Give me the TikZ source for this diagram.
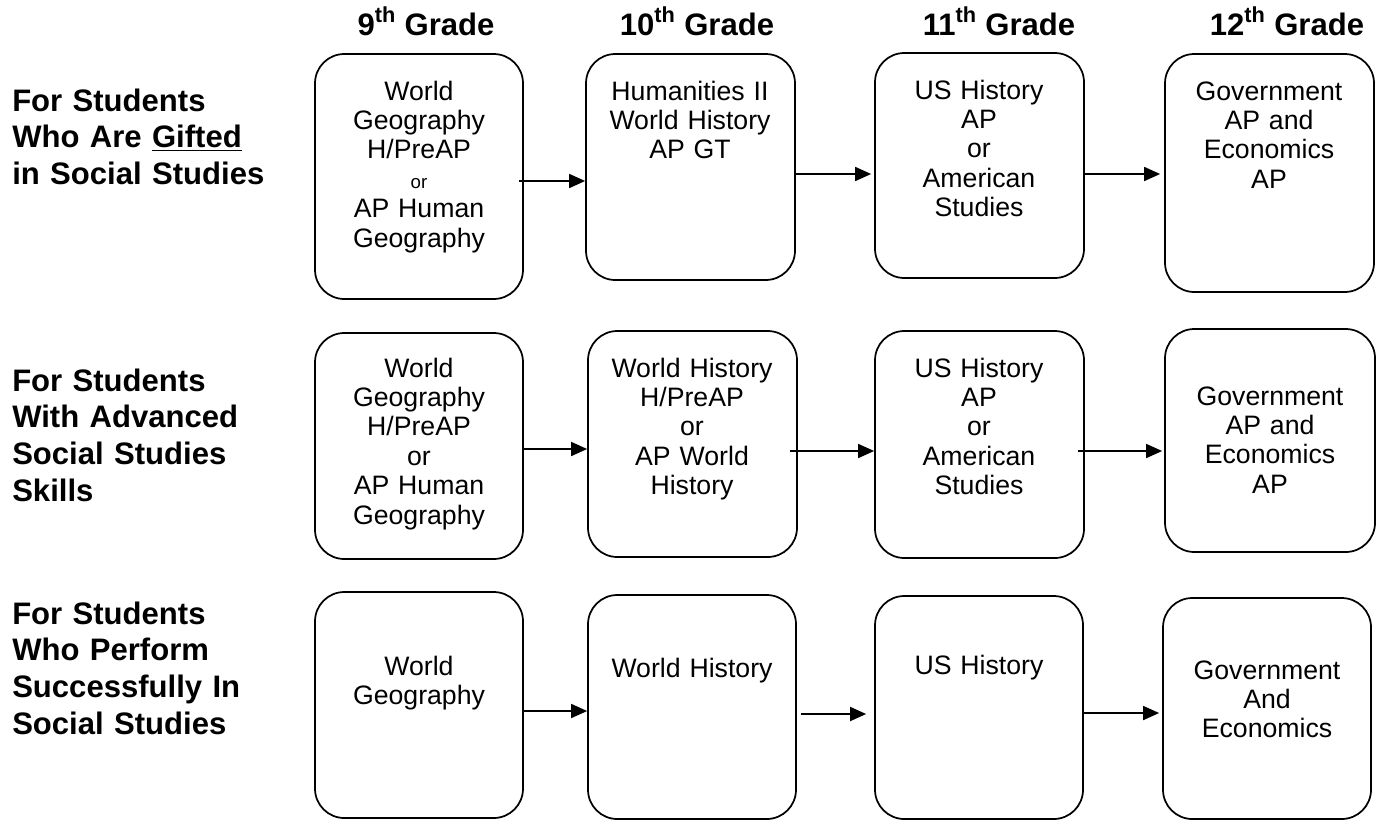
\documentclass[tikz,border=0pt]{standalone}
\usepackage{fontspec}
\setmainfont{Liberation Sans}
\usetikzlibrary{arrows.meta,fit}
\begin{document}
\begin{tikzpicture}[x=0.75pt,y=-0.75pt,
 box/.style={draw, line width=1.3pt, rounded corners=22pt, inner sep=0pt},
 txt/.style={font=\fontsize{20}{22.1}\selectfont, text width=155pt, align=center, anchor=base, inner sep=0pt},
 lab/.style={font=\bfseries\fontsize{23.3}{27.6}\selectfont, text width=240pt, align=left, anchor=base west, inner sep=0pt},
 hdr/.style={font=\bfseries\fontsize{23.3}{27}\selectfont, anchor=base, inner sep=0pt},
 arr/.style={-{Triangle[length=12pt,width=10.5pt]}, line width=1.3pt}]
\useasboundingbox (0,0) rectangle (1377,822);

% headers
\node[hdr] (h9) at (426,35) {9\textsuperscript{th} Grade};
\node[hdr] (h10) at (697,35) {10\textsuperscript{th} Grade};
\node[hdr] (h11) at (999,35) {11\textsuperscript{th} Grade};
\node[hdr] (h12) at (1287,35) {12\textsuperscript{th} Grade};

% row labels
\node[lab] (l1) at (12,111) {For Students\\Who Are \underline{Gifted}\\in Social Studies};
\node[lab] (l2) at (12,391) {For Students\\With Advanced\\Social Studies\\Skills};
\node[lab] (l3) at (12,624) {For Students\\Who Perform\\Successfully In\\Social Studies};

% boxes row 1
\node[box, fit={(315,54)(523,299)}] (r1c1) {};
\node[box, fit={(586,54)(795,280)}] (r1c2) {};
\node[box, fit={(875,53)(1084,278)}] (r1c3) {};
\node[box, fit={(1165,54)(1374,292)}] (r1c4) {};
% boxes row 2
\node[box, fit={(315,333)(523,559)}] (r2c1) {};
\node[box, fit={(588,331)(797,557)}] (r2c2) {};
\node[box, fit={(875,331)(1084,558)}] (r2c3) {};
\node[box, fit={(1165,329)(1375,552)}] (r2c4) {};
% boxes row 3
\node[box, fit={(315,592)(523,818)}] (r3c1) {};
\node[box, fit={(588,595)(796,819)}] (r3c2) {};
\node[box, fit={(875,596)(1083,819)}] (r3c3) {};
\node[box, fit={(1163,598)(1371,819)}] (r3c4) {};

% texts row 1
\node[txt] (t11) at (419,100) {World\\Geography\\H/PreAP\\{\fontsize{14}{14}\selectfont or}\\AP Human\\Geography};
\node[txt] (t12) at (690,100) {Humanities II\\World History\\AP GT};
\node[txt] (t13) at (979,99) {US History\\AP\\or\\American\\Studies};
\node[txt] (t14) at (1269,100) {Government\\AP and\\Economics\\AP};
% texts row 2
\node[txt] (t21) at (419,377) {World\\Geography\\H/PreAP\\or\\AP Human\\Geography};
\node[txt] (t22) at (692,377) {World History\\H/PreAP\\or\\AP World\\History};
\node[txt] (t23) at (979,377) {US History\\AP\\or\\American\\Studies};
\node[txt] (t24) at (1270,405) {Government\\AP and\\Economics\\AP};
% texts row 3
\node[txt] (t31) at (419,675) {World\\Geography};
\node[txt] (t32) at (692,677) {World History};
\node[txt] (t33) at (979,674) {US History};
\node[txt] (t34) at (1267,679) {Government\\And\\Economics};

% arrow heights
\coordinate (ya) at (0,181);
\coordinate (yb) at (0,174);
\coordinate (yc) at (0,449);
\coordinate (yd) at (0,451);
\coordinate (ye) at (0,711);
\coordinate (yf) at (0,714);
\coordinate (yg) at (0,713);

% arrows
\draw[arr, shorten <=-3.75pt] (r1c1.east |- ya) -- (r1c2.west |- ya);
\draw[arr, shorten >=2.25pt] (r1c2.east |- yb) -- (r1c3.west |- yb);
\draw[arr, shorten >=3pt] (r1c3.east |- yb) -- (r1c4.west |- yb);

\draw[arr] (r2c1.east |- yc) -- (r2c2.west |- yc);
\draw[arr, shorten <=-6pt] (r2c2.east |- yd) -- (r2c3.west |- yd);
\draw[arr, shorten <=-5.25pt, shorten >=1.5pt] (r2c3.east |- yd) -- (r2c4.west |- yd);

\draw[arr] (r3c1.east |- ye) -- (r3c2.west |- ye);
\draw[arr, shorten <=3pt, shorten >=6pt] (r3c2.east |- yf) -- (r3c3.west |- yf);
\draw[arr, shorten >=2.25pt] (r3c3.east |- yg) -- (r3c4.west |- yg);
\end{tikzpicture}
\end{document}
